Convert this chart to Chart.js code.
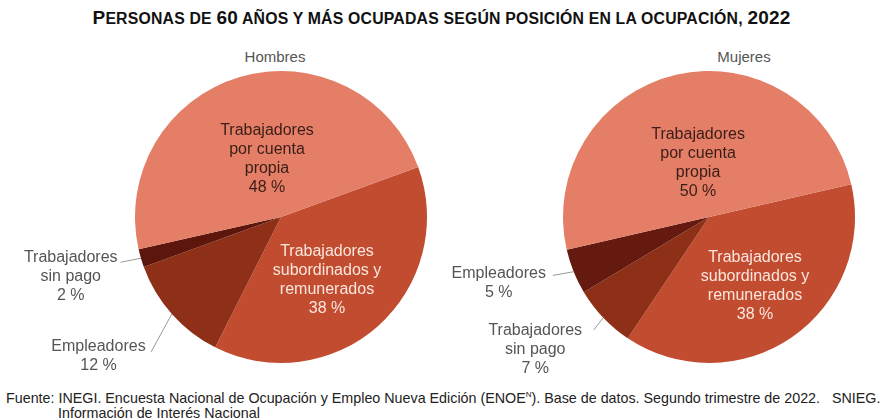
<!DOCTYPE html>
<html lang="es">
<head>
<meta charset="UTF-8">
<title>Personas de 60 años y más ocupadas según posición en la ocupación, 2022</title>
<script src="https://cdn.jsdelivr.net/npm/chart.js"></script>
<style>
    body { margin: 0; background: #fff; }
    #wrap { position: relative; width: 883px; height: 419px; overflow: hidden; font-family: "Liberation Sans", Arial, sans-serif; }
    #titulo {
        position: absolute; left: 0; width: 883px; top: 7px; text-align: center;
        font-weight: bold; font-size: 19px; color: #111; letter-spacing: 0.2px;
    }
    #titulo .sc { font-size: 15.8px; text-transform: uppercase; }
    .sub { position: absolute; top: 48px; font-size: 15px; color: #555; text-align: center; width: 120px; }
    canvas { position: absolute; }
    #fuente {
        position: absolute; left: 6px; top: 387px; font-size: 14.3px; color: #222; line-height: 15px;
        white-space: nowrap;
    }
    #fuente sup { font-size: 8px; }
</style>
</head>
<body>
<div id="wrap">
    <div id="titulo">P<span class="sc">ersonas de </span>60<span class="sc"> años y más ocupadas según posición en la ocupación, </span>2022</div>
    <div class="sub" style="left:215px">Hombres</div>
    <div class="sub" style="left:684px">Mujeres</div>
    <canvas id="hombres" style="left:0;top:60px"></canvas>
    <canvas id="mujeres" style="left:441px;top:60px"></canvas>
    <div id="fuente">Fuente: INEGI. Encuesta Nacional de Ocupación y Empleo Nueva Edición (ENOE<sup>N</sup>). Base de datos. Segundo trimestre de 2022. &nbsp; SNIEG.<br>
        <span style="padding-left:52px">Información de Interés Nacional</span></div>
</div>

<script>
    // categorias (en el orden en que se dibujan, en sentido horario)
    const categoriasHombres = [
        ['Trabajadores', 'subordinados y', 'remunerados'],
        ['Empleadores'],
        ['Trabajadores', 'sin pago'],
        ['Trabajadores', 'por cuenta', 'propia']
    ];
    const valoresHombres = [38, 12, 2, 48];

    const categoriasMujeres = [
        ['Trabajadores', 'subordinados y', 'remunerados'],
        ['Trabajadores', 'sin pago'],
        ['Empleadores'],
        ['Trabajadores', 'por cuenta', 'propia']
    ];
    const valoresMujeres = [38, 7, 5, 50];

    // colores por posicion
    const coloresHombres = ['#c24c30', '#8e2f18', '#5c160c', '#e47e67'];
    const coloresMujeres = ['#c24c30', '#8e2f18', '#641a0e', '#e47e67'];

    const GRIS = '#555555';
    const OSCURO = '#3a1d16';
    const CLARO = '#fbe6de';

    // dibuja las etiquetas de cada rebanada (dentro o fuera con linea guia)
    const etiquetas = {
        id: 'etiquetas',
        afterDatasetsDraw(chart, args, opts) {
            const ctx = chart.ctx;
            const meta = chart.getDatasetMeta(0);
            const labels = chart.data.labels;
            const vals = chart.data.datasets[0].data;
            ctx.save();
            ctx.font = '16px "Liberation Sans", Arial, sans-serif';
            ctx.textAlign = 'center';
            ctx.textBaseline = 'middle';
            meta.data.forEach((arc, i) => {
                const p = opts.place[i];
                const r = arc.outerRadius;
                const lx = arc.x + p.fx * r;
                const ly = arc.y + p.fy * r;
                if (p.line) {
                    const mid = (arc.startAngle + arc.endAngle) / 2;
                    ctx.strokeStyle = '#9a9a9a';
                    ctx.lineWidth = 1;
                    ctx.beginPath();
                    ctx.moveTo(arc.x + r * Math.cos(mid), arc.y + r * Math.sin(mid));
                    ctx.lineTo(arc.x + p.line[0] * r, arc.y + p.line[1] * r);
                    ctx.stroke();
                }
                ctx.fillStyle = p.color;
                const lines = labels[i].concat([vals[i] + ' %']);
                lines.forEach((t, k) => ctx.fillText(t, lx, ly + k * 19));
            });
            ctx.restore();
        }
    };

    function pastel(id, w, h, cats, vals, colores, rot, pad, place) {
        const cv = document.getElementById(id);
        cv.width = w; cv.height = h;
        return new Chart(cv, {
            type: 'pie',
            data: {
                labels: cats,
                datasets: [{ data: vals, backgroundColor: colores, borderWidth: 0, hoverOffset: 0 }]
            },
            options: {
                responsive: false,
                animation: false,
                rotation: rot,
                layout: { padding: pad },
                events: [],
                plugins: {
                    legend: { display: false },
                    tooltip: { enabled: false },
                    etiquetas: { place: place }
                }
            },
            plugins: [etiquetas]
        });
    }

    pastel('hombres', 441, 320, categoriasHombres, valoresHombres, coloresHombres, 70,
        { left: 135, right: 14, top: 11, bottom: 17 },
        [
            { fx: 0.315, fy: 0.24, color: CLARO },
            { fx: -1.25, fy: 0.89, color: GRIS, line: [-0.89, 0.925] },
            { fx: -1.44, fy: 0.28, color: GRIS, line: [-1.10, 0.31] },
            { fx: -0.096, fy: -0.595, color: OSCURO }
        ]);

    pastel('mujeres', 442, 320, categoriasMujeres, valoresMujeres, coloresMujeres, 77,
        { left: 122, right: 28, top: 11, bottom: 17 },
        [
            { fx: 0.315, fy: 0.275, color: CLARO },
            { fx: -1.19, fy: 0.775, color: GRIS, line: [-0.79, 0.775] },
            { fx: -1.44, fy: 0.385, color: GRIS, line: [-1.07, 0.40] },
            { fx: -0.075, fy: -0.565, color: OSCURO }
        ]);
</script>
</body>
</html>
